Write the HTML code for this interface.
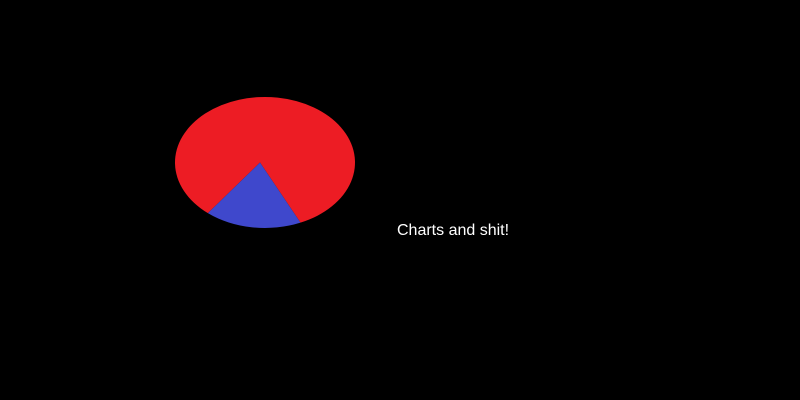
<!DOCTYPE html>
<html><head><meta charset="utf-8"><style>
html,body{margin:0;padding:0;background:#000;width:800px;height:400px;overflow:hidden}
svg{display:block}
</style></head><body>
<svg width="800" height="400">
<g id="pie"></g>
<text x="397" y="235" fill="#ffffff" font-family="Liberation Sans, sans-serif" font-size="16">Charts and shit!</text>
</svg>
<script>
const labels = ["red", "blue"];
const values = [82.6, 17.4];
const colors = ["#ed1c24", "#3f48cc"];
const startDeg = 129.4;
const cx = 265, cy = 162.5, rx = 90, ry = 65.5;
const g = document.getElementById('pie');
const total = values.reduce((a,b)=>a+b,0);
let a0 = startDeg;
function pt(d){const r=d*Math.PI/180;return [cx+rx*Math.cos(r), cy+ry*Math.sin(r)];}
values.forEach((v,i)=>{
  const sweep = v/total*360;
  const a1 = a0 + sweep;
  const p0 = pt(a0), p1 = pt(a1);
  const large = sweep>180?1:0;
  const p = document.createElementNS('http://www.w3.org/2000/svg','path');
  p.setAttribute('d',`M${cx-5},${cy} L${p0[0]},${p0[1]} A${rx},${ry} 0 ${large} 1 ${p1[0]},${p1[1]} Z`);
  p.setAttribute('fill',colors[i]);
  
  
  g.appendChild(p);
  a0 = a1;
});
</script>
</body></html>
